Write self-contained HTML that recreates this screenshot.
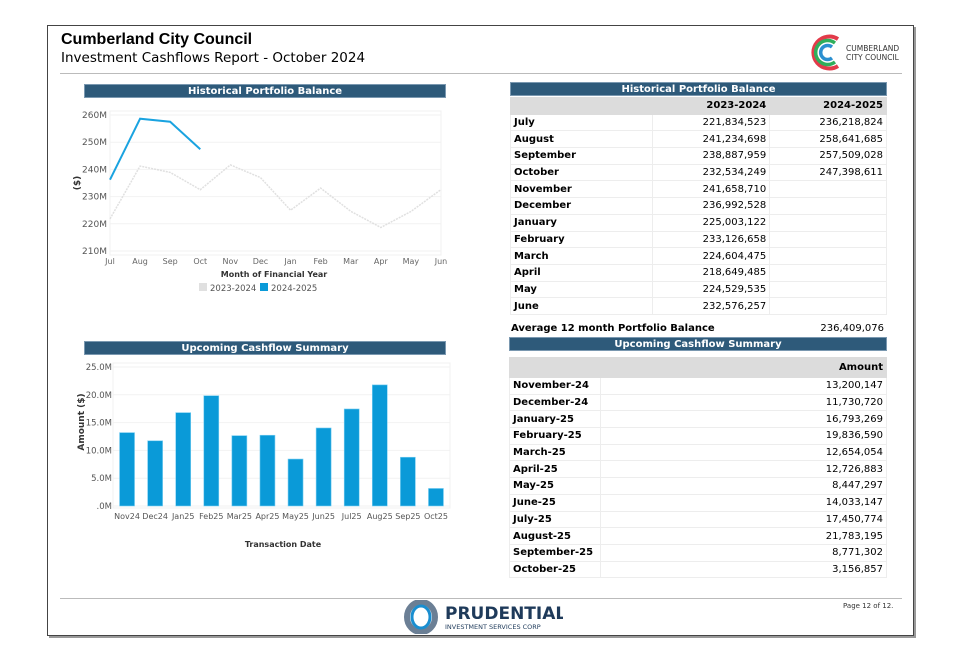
<!DOCTYPE html>
<html><head><meta charset="utf-8">
<style>
*{box-sizing:border-box;margin:0;padding:0}
body{width:957px;height:660px;background:#fff;position:relative;font-family:"DejaVu Sans","Liberation Sans",sans-serif;color:#000;overflow:hidden}
.abs{position:absolute}
.bar{background:#2e5a7a;color:#fff;font-weight:bold;font-size:10px;text-align:center;line-height:13px;border:1px solid #7a98b0}
table{border-collapse:collapse;font-size:10px;position:absolute}
td{border:1px solid #ededed;padding:0 3px;height:16.7px;white-space:nowrap}
td.l{font-weight:bold}
td.r{text-align:right}
tr.h td{background:#dcdcdc;font-weight:bold;text-align:right;border-color:#dcdcdc}
svg text{font-family:"DejaVu Sans","Liberation Sans",sans-serif}
</style></head><body>
<div class="abs" style="left:47px;top:25px;width:867px;height:611px;border:1px solid #444;box-shadow:2px 2px 0 #999"></div>
<div class="abs" style="left:61px;top:31px;font-size:16px;font-weight:bold;font-family:'Liberation Sans',sans-serif">Cumberland City Council</div>
<div class="abs" style="left:61px;top:50px;font-size:13.5px;font-family:'DejaVu Sans',sans-serif">Investment Cashflows Report - October 2024</div>
<div class="abs" style="left:60px;top:73px;width:842px;height:1px;background:#bbb"></div>
<div class="abs" style="left:808px;top:33px;width:100px;height:38px">
<svg width="100" height="38"><path d="M30 6 A16 16 0 1 0 30 33" fill="none" stroke="#e23b4a" stroke-width="4"/><path d="M27 10 A12 12 0 1 0 27 29" fill="none" stroke="#2fae5b" stroke-width="3.5"/><path d="M24 14 A7 7 0 1 0 24 25" fill="none" stroke="#2a8fd0" stroke-width="3.5"/>
<text x="38" y="18" font-size="7.5" fill="#333">CUMBERLAND</text><text x="38" y="27" font-size="7.5" fill="#333">CITY COUNCIL</text></svg></div>

<div class="abs bar" style="left:84px;top:84px;width:362px;height:14px">Historical Portfolio Balance</div>
<svg class="abs" id="c1" style="left:60px;top:100px" width="390" height="200"></svg>

<div class="abs bar" style="left:84px;top:341px;width:362px;height:14px">Upcoming Cashflow Summary</div>
<svg class="abs" id="c2" style="left:60px;top:356px" width="400" height="200"></svg>

<div class="abs bar" style="left:510px;top:82px;width:377px;height:14px">Historical Portfolio Balance</div>
<table style="left:510px;top:97px;width:377px">
<colgroup><col style="width:142px"><col style="width:118px"><col style="width:117px"></colgroup>
<tr class="h"><td></td><td>2023-2024</td><td>2024-2025</td></tr>
<tr><td class="l">July</td><td class="r">221,834,523</td><td class="r">236,218,824</td></tr>
<tr><td class="l">August</td><td class="r">241,234,698</td><td class="r">258,641,685</td></tr>
<tr><td class="l">September</td><td class="r">238,887,959</td><td class="r">257,509,028</td></tr>
<tr><td class="l">October</td><td class="r">232,534,249</td><td class="r">247,398,611</td></tr>
<tr><td class="l">November</td><td class="r">241,658,710</td><td></td></tr>
<tr><td class="l">December</td><td class="r">236,992,528</td><td></td></tr>
<tr><td class="l">January</td><td class="r">225,003,122</td><td></td></tr>
<tr><td class="l">February</td><td class="r">233,126,658</td><td></td></tr>
<tr><td class="l">March</td><td class="r">224,604,475</td><td></td></tr>
<tr><td class="l">April</td><td class="r">218,649,485</td><td></td></tr>
<tr><td class="l">May</td><td class="r">224,529,535</td><td></td></tr>
<tr><td class="l">June</td><td class="r">232,576,257</td><td></td></tr>
</table>
<div class="abs" style="left:511px;top:323px;font-size:10px;font-weight:bold">Average 12 month Portfolio Balance</div>
<div class="abs" style="left:780px;top:323px;width:104px;text-align:right;font-size:10px">236,409,076</div>
<div class="abs bar" style="left:509px;top:337px;width:378px;height:14px">Upcoming Cashflow Summary</div>
<table style="left:509px;top:357px;width:378px">
<colgroup><col style="width:91px"><col style="width:287px"></colgroup>
<tr class="h"><td style="height:20px"></td><td style="height:20px">Amount</td></tr>
<tr><td class="l">November-24</td><td class="r">13,200,147</td></tr>
<tr><td class="l">December-24</td><td class="r">11,730,720</td></tr>
<tr><td class="l">January-25</td><td class="r">16,793,269</td></tr>
<tr><td class="l">February-25</td><td class="r">19,836,590</td></tr>
<tr><td class="l">March-25</td><td class="r">12,654,054</td></tr>
<tr><td class="l">April-25</td><td class="r">12,726,883</td></tr>
<tr><td class="l">May-25</td><td class="r">8,447,297</td></tr>
<tr><td class="l">June-25</td><td class="r">14,033,147</td></tr>
<tr><td class="l">July-25</td><td class="r">17,450,774</td></tr>
<tr><td class="l">August-25</td><td class="r">21,783,195</td></tr>
<tr><td class="l">September-25</td><td class="r">8,771,302</td></tr>
<tr><td class="l">October-25</td><td class="r">3,156,857</td></tr>
</table>

<div class="abs" style="left:60px;top:598px;width:842px;height:1px;background:#bbb"></div>
<div class="abs" style="left:403px;top:600px;width:160px;height:34px">
<svg width="160" height="34"><ellipse cx="18" cy="17" rx="14" ry="15" fill="none" stroke="#6b7f95" stroke-width="6"/><ellipse cx="18" cy="17" rx="9" ry="11" fill="none" stroke="#1a8ed0" stroke-width="3"/>
<text x="42" y="19" font-size="17" font-weight="bold" font-family="Liberation Sans" fill="#1e3a5a">PRUDENTIAL</text><text x="42" y="29" font-size="6.5" font-family="Liberation Sans" fill="#1e3a5a">INVESTMENT SERVICES CORP</text></svg></div>
<div class="abs" style="left:843px;top:602px;font-size:7px;color:#333">Page 12 of 12.</div>

<script>
const months=["Jul","Aug","Sep","Oct","Nov","Dec","Jan","Feb","Mar","Apr","May","Jun"];
const bal2324=[221.83,241.23,238.89,232.53,241.66,236.99,225.00,233.13,224.60,218.65,224.53,232.58];
const bal2425=[236.22,258.64,257.51,247.40];
const yTicks1=[210,220,230,240,250,260];
const cfCats=["Nov24","Dec24","Jan25","Feb25","Mar25","Apr25","May25","Jun25","Jul25","Aug25","Sep25","Oct25"];
const cfVals=[13.200,11.731,16.793,19.837,12.654,12.727,8.447,14.033,17.451,21.783,8.771,3.157];
const yTicks2=[0,5,10,15,20,25];
const yLab2=[".0M","5.0M","10.0M","15.0M","20.0M","25.0M"];
const NS="http://www.w3.org/2000/svg";
function mk(p,t,a,txt){const e=document.createElementNS(NS,t);for(const k in a)e.setAttribute(k,a[k]);if(txt!==undefined)e.textContent=txt;p.appendChild(e);return e;}
(function(){
const s=document.getElementById('c1');
const x0=50,x1=381,yT=15,yB=151,vmin=210,vmax=260;
const X=i=>x0+i*(x1-x0)/(months.length-1);
const Y=v=>yB-(v-vmin)/(vmax-vmin)*(yB-yT);
const pl=mk(s,'rect',{x:x0,y:yT-4,width:x1-x0,height:yB-yT+8,fill:'none',stroke:'#f0f0f0'});

yTicks1.forEach(v=>{const g=mk(s,'line',{x1:x0,x2:x1,y1:Y(v),y2:Y(v),stroke:'#f2f2f2'});

const t=mk(s,'text',{x:x0-3,y:Y(v)+3,'font-size':9,fill:'#555','text-anchor':'end'},v+'M');
});
months.forEach((m,i)=>{const t=mk(s,'text',{x:X(i),y:164,'font-size':8,fill:'#666','text-anchor':'middle'},m);
});
const a=mk(s,'polyline',{points:bal2324.map((v,i)=>X(i)+','+Y(v)).join(' '),fill:'none',stroke:'#e0e0e0','stroke-width':1.5,'stroke-dasharray':'2 1'});

const b=mk(s,'polyline',{points:bal2425.map((v,i)=>X(i)+','+Y(v)).join(' '),fill:'none',stroke:'#1aa3e0','stroke-width':2});

const yt=mk(s,'text',{x:0,y:0,'font-size':9,fill:'#333','font-weight':'bold',transform:'translate(20,83) rotate(-90)','text-anchor':'middle'},'($)');

const xt=mk(s,'text',{x:214,y:177,'font-size':8,fill:'#333','font-weight':'bold','text-anchor':'middle'},'Month of Financial Year');

const l1=mk(s,'rect',{x:139,y:183,width:8,height:8,fill:'#e0e0e0'});
const lt1=mk(s,'text',{x:150,y:191,'font-size':8.5,fill:'#555'},'2023-2024');
const l2=mk(s,'rect',{x:200,y:183,width:8,height:8,fill:'#0a9ad8'});
const lt2=mk(s,'text',{x:211,y:191,'font-size':8.5,fill:'#555'},'2024-2025');
})();
(function(){
const s=document.getElementById('c2');
const x0=53,x1=390,yT=11,yB=150,vmax=25;
const n=cfCats.length,step=(x1-x0)/n;
const X=i=>x0+step*(i+0.5);
const Y=v=>yB-v/vmax*(yB-yT);
const pl=mk(s,'rect',{x:x0,y:yT-4,width:x1-x0,height:yB-yT+6,fill:'none',stroke:'#f0f0f0'});

yTicks2.forEach((v,i)=>{const g=mk(s,'line',{x1:x0,x2:x1,y1:Y(v),y2:Y(v),stroke:'#f2f2f2'});

const t=mk(s,'text',{x:x0-1,y:Y(v)+3,'font-size':8.5,fill:'#555','text-anchor':'end'},yLab2[i]);
});
cfVals.forEach((v,i)=>{const r=mk(s,'rect',{x:X(i)-7.5,y:Y(v),width:15,height:yB-Y(v),fill:'#0a9ad8',stroke:'#7ccff2','stroke-width':0.6});

const t=mk(s,'text',{x:X(i),y:163,'font-size':8,fill:'#555','text-anchor':'middle'},cfCats[i]);
});
const yt=mk(s,'text',{x:0,y:0,'font-size':9,fill:'#333','font-weight':'bold',transform:'translate(24,66) rotate(-90)','text-anchor':'middle'},'Amount ($)');

const xt=mk(s,'text',{x:223,y:191,'font-size':8,fill:'#333','font-weight':'bold','text-anchor':'middle'},'Transaction Date');

})();
</script>
</body></html>
